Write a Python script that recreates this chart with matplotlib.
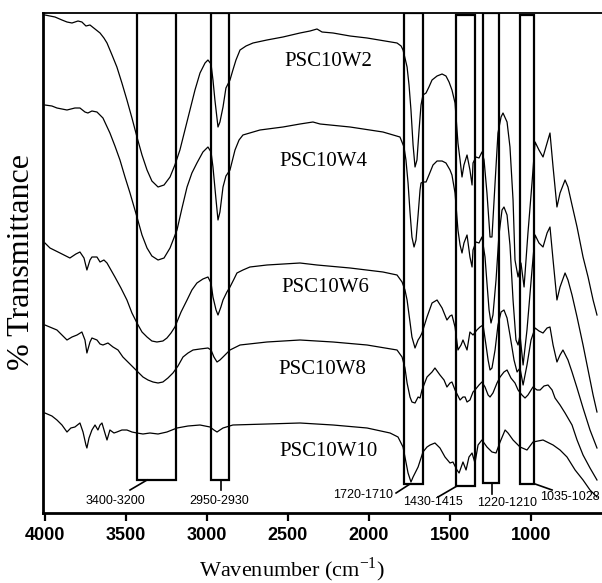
import matplotlib
matplotlib.use('Agg')
import matplotlib.pyplot as plt
from matplotlib.patches import Rectangle

plt.rcParams['mathtext.fontset'] = 'custom'
plt.rcParams['mathtext.rm'] = 'Liberation Serif'

# FTIR spectra, wavenumber (cm-1) vs relative transmittance (arbitrary units, curves stacked)
wn_w2 = [4000, 3938, 3895, 3864, 3833, 3796, 3772, 3747, 3722, 3691, 3660, 3636, 3617, 3586, 3556, 3525,
         3494, 3463, 3432, 3401, 3370, 3340, 3302, 3265, 3228, 3198, 3167, 3136, 3105, 3074, 3043, 3012,
         2994, 2975, 2963, 2951, 2932, 2920, 2901, 2883, 2858, 2840, 2821, 2796, 2759, 2716, 2630, 2531,
         2426, 2364, 2321, 2290, 2222, 2117, 2012, 1901, 1827, 1802, 1790, 1778, 1765, 1753, 1741, 1728,
         1716, 1704, 1691, 1679, 1667, 1648, 1630, 1611, 1580, 1549, 1525, 1506, 1488, 1469, 1451, 1438,
         1426, 1414, 1395, 1377, 1364, 1358, 1340, 1321, 1303, 1290, 1272, 1253, 1241, 1222, 1204, 1185,
         1173, 1148, 1130, 1111, 1099, 1080, 1062, 1043, 1019, 994, 975, 951, 926, 901, 883, 864,
         840, 821, 790, 772, 747, 716, 679, 648, 617, 593]
t_w2 = [498, 496, 493, 491, 490, 492, 491, 487, 488, 484, 480, 475, 470, 458, 446, 430,
        413, 395, 376, 358, 343, 332, 326, 328, 336, 348, 363, 383, 403, 423, 440, 450,
        453, 449, 433, 413, 386, 391, 406, 425, 433, 443, 453, 463, 467, 470, 473, 476,
        480, 482, 484, 481, 480, 477, 475, 472, 470, 467, 463, 455, 446, 428, 403, 368,
        346, 353, 383, 408, 418, 420, 426, 433, 437, 439, 437, 431, 423, 410, 370, 353,
        336, 348, 358, 343, 328, 350, 356, 355, 361, 353, 320, 276, 276, 330, 380, 396,
        400, 391, 366, 313, 253, 236, 250, 226, 280, 330, 371, 363, 356, 370, 380, 346,
        306, 320, 333, 326, 308, 286, 256, 236, 213, 198]

wn_w4 = [4000, 3957, 3926, 3864, 3815, 3784, 3753, 3735, 3710, 3679, 3642, 3599, 3568, 3537, 3506, 3475,
         3432, 3401, 3370, 3340, 3302, 3265, 3228, 3185, 3154, 3123, 3093, 3062, 3025, 2994, 2975, 2963,
         2944, 2932, 2920, 2901, 2883, 2858, 2827, 2802, 2778, 2673, 2531, 2426, 2346, 2302, 2117, 1914,
         1809, 1784, 1772, 1759, 1747, 1735, 1722, 1710, 1697, 1685, 1679, 1667, 1648, 1630, 1605, 1580,
         1549, 1525, 1500, 1488, 1469, 1451, 1438, 1426, 1414, 1395, 1377, 1364, 1358, 1340, 1321, 1303,
         1284, 1272, 1259, 1247, 1235, 1216, 1198, 1179, 1167, 1148, 1130, 1111, 1093, 1080, 1068, 1049,
         1025, 994, 975, 951, 926, 901, 883, 864, 840, 821, 790, 772, 747, 716, 679, 648, 617, 593]
t_w4 = [408, 407, 405, 403, 405, 405, 401, 400, 402, 401, 395, 380, 367, 353, 336, 320,
        296, 278, 265, 257, 253, 255, 265, 283, 305, 326, 340, 350, 361, 366, 361, 346,
        313, 293, 301, 326, 337, 343, 363, 373, 378, 383, 386, 389, 391, 389, 386, 381,
        376, 366, 353, 330, 301, 276, 266, 273, 298, 323, 330, 331, 331, 338, 348, 352,
        352, 350, 343, 338, 320, 283, 268, 260, 270, 278, 256, 246, 263, 271, 270, 276,
        256, 230, 203, 190, 198, 233, 278, 303, 306, 298, 268, 213, 173, 168, 178, 148,
        183, 243, 278, 270, 266, 280, 286, 253, 213, 226, 240, 233, 218, 196, 168, 143, 118, 101]

wn_w6 = [4000, 3969, 3907, 3846, 3809, 3784, 3759, 3741, 3722, 3710, 3679, 3660, 3636, 3617, 3568, 3531,
         3494, 3463, 3432, 3401, 3370, 3340, 3309, 3272, 3247, 3222, 3198, 3160, 3123, 3093, 3062, 3025,
         2994, 2975, 2963, 2944, 2932, 2914, 2901, 2877, 2858, 2833, 2815, 2778, 2735, 2630, 2426, 2321,
         2117, 1914, 1827, 1796, 1778, 1765, 1747, 1735, 1716, 1697, 1685, 1673, 1642, 1611, 1580, 1549,
         1519, 1500, 1488, 1469, 1451, 1432, 1420, 1395, 1377, 1358, 1334, 1315, 1296, 1278, 1265, 1253,
         1241, 1222, 1204, 1185, 1167, 1148, 1130, 1105, 1086, 1068, 1049, 1025, 1000, 975, 951, 926,
         901, 883, 864, 840, 821, 803, 772, 747, 716, 679, 636, 593]
t_w6 = [270, 265, 260, 255, 259, 261, 255, 243, 253, 256, 256, 251, 253, 250, 236, 225,
        213, 200, 190, 181, 176, 172, 171, 172, 175, 180, 186, 201, 213, 223, 230, 234,
        236, 230, 216, 203, 198, 206, 213, 221, 226, 234, 240, 243, 246, 248, 250, 248,
        245, 241, 238, 231, 223, 213, 191, 176, 165, 173, 176, 180, 196, 210, 213, 205,
        193, 197, 198, 186, 163, 168, 173, 163, 181, 178, 183, 186, 188, 168, 153, 143,
        145, 163, 188, 201, 203, 195, 178, 153, 141, 145, 128, 148, 173, 185, 182, 180,
        185, 186, 168, 151, 158, 163, 153, 141, 125, 105, 83, 65]

wn_w8 = [4000, 3926, 3864, 3833, 3802, 3772, 3753, 3741, 3722, 3710, 3679, 3660, 3642, 3611, 3580, 3549,
         3519, 3488, 3457, 3426, 3395, 3364, 3333, 3302, 3272, 3241, 3210, 3179, 3148, 3117, 3086, 3043,
         2994, 2975, 2957, 2938, 2920, 2901, 2858, 2796, 2630, 2426, 2222, 2012, 1827, 1796, 1778, 1765,
         1747, 1735, 1716, 1697, 1685, 1673, 1642, 1611, 1593, 1562, 1537, 1519, 1500, 1488, 1469, 1438,
         1420, 1407, 1395, 1377, 1358, 1346, 1321, 1303, 1284, 1265, 1253, 1235, 1210, 1191, 1167, 1148,
         1124, 1099, 1080, 1056, 1037, 1019, 988, 963, 944, 920, 895, 870, 852, 821, 790, 747,
         716, 679, 636, 593]
t_w8 = [188, 183, 173, 176, 178, 181, 173, 160, 171, 175, 173, 169, 168, 170, 166, 163,
        156, 151, 146, 141, 136, 133, 131, 130, 131, 135, 140, 147, 156, 160, 163, 164,
        165, 163, 156, 151, 153, 156, 163, 168, 171, 173, 171, 168, 163, 156, 145, 130,
        116, 111, 110, 116, 115, 123, 136, 141, 145, 138, 133, 126, 130, 131, 123, 113,
        116, 116, 111, 113, 121, 123, 128, 131, 126, 118, 116, 120, 130, 136, 141, 143,
        135, 130, 123, 118, 115, 118, 126, 123, 123, 127, 128, 123, 115, 108, 100, 88,
        73, 58, 45, 33]

wn_w10 = [4000, 3957, 3926, 3895, 3864, 3840, 3815, 3784, 3765, 3747, 3741, 3728, 3710, 3691, 3673, 3660,
          3648, 3630, 3617, 3599, 3574, 3556, 3525, 3494, 3463, 3432, 3395, 3352, 3302, 3247, 3185, 3117,
          3043, 2981, 2957, 2938, 2920, 2901, 2840, 2630, 2426, 2222, 2012, 1870, 1821, 1790, 1759, 1741,
          1728, 1697, 1667, 1642, 1623, 1593, 1562, 1531, 1500, 1482, 1457, 1444, 1420, 1401, 1383, 1364,
          1346, 1327, 1303, 1272, 1241, 1216, 1191, 1160, 1142, 1111, 1068, 1025, 988, 926, 864, 821,
          778, 728, 679, 636, 593]
t_w10 = [100, 97, 93, 88, 81, 85, 86, 90, 81, 68, 65, 75, 83, 88, 83, 88,
         90, 80, 73, 83, 80, 81, 83, 83, 81, 80, 79, 80, 79, 81, 85, 87,
         88, 86, 83, 81, 83, 85, 88, 89, 90, 88, 85, 80, 76, 66, 40, 31,
         36, 46, 61, 66, 68, 70, 65, 56, 50, 51, 43, 40, 51, 43, 56, 60,
         50, 68, 73, 66, 61, 60, 71, 83, 80, 73, 66, 63, 71, 73, 68, 63,
         56, 43, 33, 23, 16]

names = ['PSC10W2', 'PSC10W4', 'PSC10W6', 'PSC10W8', 'PSC10W10']
name_wn = [2253, 2284, 2272, 2290, 2253]
name_t = [451, 352, 226, 144, 62]

# marked band regions
band_hi = [3432, 2975, 1784, 1463, 1296, 1068]
band_lo = [3191, 2864, 1667, 1345, 1198, 982]
band_bot = [33, 33, 29, 27, 30, 29]
band_top = [500, 500, 500, 498, 500, 498]
band_lab = ['3400-3200', '2950-2930', '1720-1710', '1430-1415', '1220-1210', '1035-1028']
lab_wn = [3568, 2926, 2037, 1605, 1148, 759]
lab_t = [12, 12, 18, 11, 10, 16]
lead_x0 = [3370, 2914, 1747, 1457, 1241, 975]
lead_x1 = [3475, 2914, 1833, 1574, 1241, 870]
lead_y0 = [33, 33, 29, 27, 29, 29]
lead_y1 = [23, 23, 20, 16, 19, 23]

fig = plt.figure(figsize=(6.02, 5.83), dpi=100)
ax = fig.add_axes([43/602, 1-513/583, 1-43/602, 500/583])

for wn, t in [(wn_w2, t_w2), (wn_w4, t_w4), (wn_w6, t_w6), (wn_w8, t_w8), (wn_w10, t_w10)]:
    ax.plot(wn, t, color='black', lw=0.9)

for i in range(len(names)):
    ax.text(name_wn[i], name_t[i], names[i], fontsize=15, family='Liberation Serif',
            ha='center', va='center')

for i in range(len(band_lab)):
    ax.add_patch(Rectangle((band_lo[i], band_bot[i]), band_hi[i]-band_lo[i], band_top[i]-band_bot[i],
                           fill=False, ec='black', lw=1.6))
    ax.plot([lead_x0[i], lead_x1[i]], [lead_y0[i], lead_y1[i]], color='black', lw=1.2)
    ax.text(lab_wn[i], lab_t[i], band_lab[i], fontsize=9, family='Liberation Sans',
            ha='center', va='center')

ax.set_xlim(4012, 562)
ax.set_ylim(0, 500)
ax.set_xticks([4000, 3500, 3000, 2500, 2000, 1500, 1000])
ax.set_yticks([])
ax.tick_params(axis='x', direction='out', length=6, width=1.6, pad=4)
for lab in ax.get_xticklabels():
    lab.set_fontfamily('Liberation Sans')
    lab.set_fontweight('bold')
    lab.set_fontsize(13)
ax.spines['right'].set_visible(False)
ax.spines['left'].set_linewidth(2)
ax.spines['bottom'].set_linewidth(2)
ax.spines['top'].set_linewidth(1.3)

fig.text(22/602, 1-262/583, '% Transmittance', rotation=90, fontsize=23,
         family='Liberation Serif', ha='center', va='center')
fig.text(292/602, 1-570/583, 'Wavenumber (cm$^{-1}$)', fontsize=16,
         family='Liberation Serif', ha='center', va='center')

plt.savefig('out.png', dpi=100)
